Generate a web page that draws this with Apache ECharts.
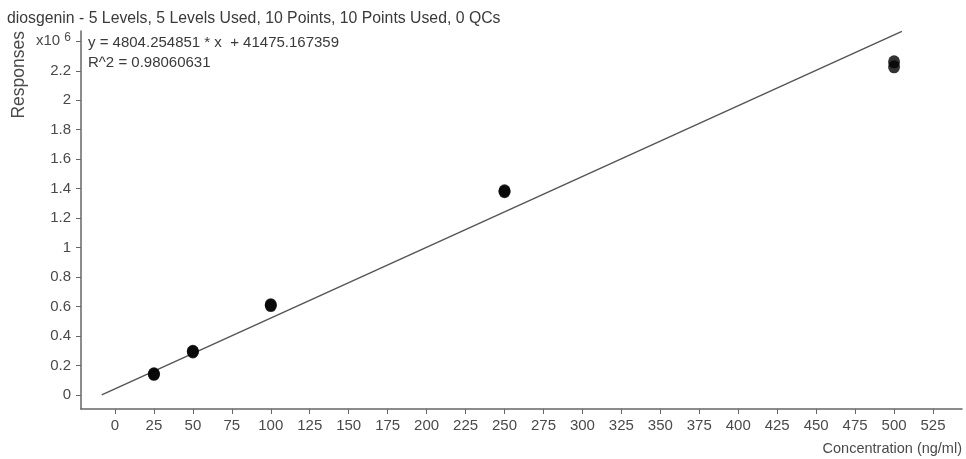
<!DOCTYPE html>
<html>
<head>
<meta charset="utf-8">
<script src="https://cdn.jsdelivr.net/npm/echarts@6/dist/echarts.min.js"></script>
<style>html,body{margin:0;padding:0;background:#fff}#c{width:966px;height:459px}</style>
</head>
<body>
<div id="c"></div>
<script>
// Calibration points (concentration ng/ml, response)
const concentrations = [25, 25, 50, 50, 100, 100, 250, 250, 500, 500];
const responses = [140000, 144000, 292000, 297000, 607000, 613000, 1380000, 1386000, 2227000, 2261000];
// Fitted line from the reported equation
const slope = 4804.254851;
const intercept = 41475.167359;
const lineXRange = [-8.5, 505];
// Tick values
const xTicks = [0,25,50,75,100,125,150,175,200,225,250,275,300,325,350,375,400,425,450,475,500,525];
const yTicks = [0,200000,400000,600000,800000,1000000,1200000,1400000,1600000,1800000,2000000,2200000,2400000];

const font = '"Liberation Sans", Arial, sans-serif';
const points = concentrations.map((c, i) => [c, responses[i]]);
const fitLine = lineXRange.map(x => [x, slope * x + intercept]);

const chart = echarts.init(document.getElementById('c'), null, {renderer: 'canvas'});
chart.setOption({
  animation: false,
  backgroundColor: '#fff',
  title: {
    text: 'diosgenin - 5 Levels, 5 Levels Used, 10 Points, 10 Points Used, 0 QCs',
    left: 2, top: 6,
    textStyle: {fontFamily: font, fontSize: 15.8, fontWeight: 'normal', color: '#3a3a3a'}
  },
  grid: {left: 81, right: 4, top: 31, bottom: 50},
  xAxis: {
    type: 'value', min: -21.8, max: 543.6,
    name: 'Concentration (ng/ml)', nameLocation: 'end', nameGap: 0,
    nameTextStyle: {fontFamily: font, fontSize: 14.5, color: '#4a4a4a', align: 'right', verticalAlign: 'top', padding: [32, 0, 0, 0]},
    splitLine: {show: false},
    axisLine: {show: true, onZero: false, lineStyle: {color: '#666', width: 1.5}},
    axisTick: {show: true, length: 5, customValues: xTicks, lineStyle: {color: '#666'}},
    axisLabel: {customValues: xTicks, margin: 9, fontFamily: font, fontSize: 15, color: '#4a4a4a'}
  },
  yAxis: {
    type: 'value', min: -95000, max: 2470000,
    splitLine: {show: false},
    axisLine: {show: true, onZero: false, lineStyle: {color: '#666', width: 1.5}},
    axisTick: {show: true, length: 5, customValues: yTicks, lineStyle: {color: '#666'}},
    axisLabel: {
      customValues: yTicks, margin: 10, fontFamily: font, fontSize: 15, color: '#4a4a4a',
      formatter: v => v >= 2400000 ? '{base|x10} {sup|6}' : String(Math.round(v / 100000) / 10),
      rich: {
        base: {fontFamily: font, fontSize: 15, color: '#4a4a4a'},
        sup: {fontFamily: font, fontSize: 12, color: '#4a4a4a', padding: [0, 0, 7, 0]}
      }
    }
  },
  graphic: [
    {type: 'text', left: 10, top: 31, rotation: Math.PI / 2,
     style: {text: 'Responses', font: '17.5px ' + font, fill: '#4a4a4a'}},
    {type: 'text', left: 88, top: 35, style: {text: 'y = 4804.254851 * x  + 41475.167359', font: '15px ' + font, fill: '#3a3a3a'}},
    {type: 'text', left: 88, top: 55, style: {text: 'R^2 = 0.98060631', font: '15px ' + font, fill: '#3a3a3a'}}
  ],
  series: [
    {type: 'line', data: fitLine, showSymbol: false, lineStyle: {color: '#555', width: 1.5}, z: 2},
    {type: 'scatter', data: points, symbol: 'circle', symbolSize: [12, 13], itemStyle: {color: '#000'}, z: 3}
  ]
});
</script>
</body>
</html>
